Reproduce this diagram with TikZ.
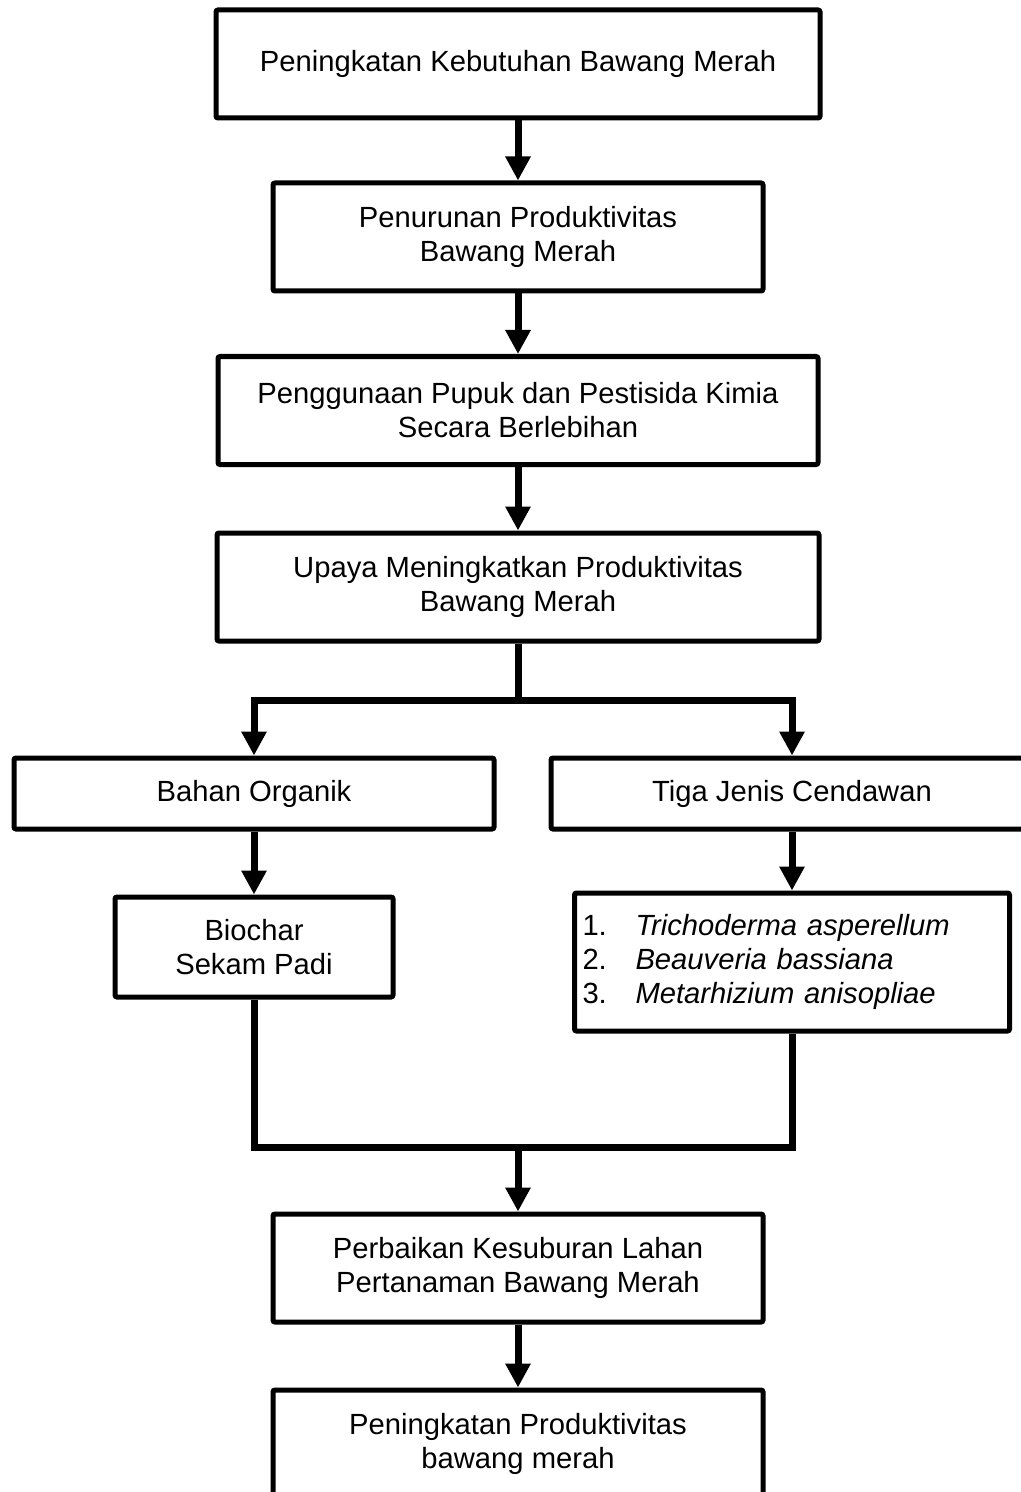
\documentclass[tikz,border=0pt]{standalone}
\usepackage{fontspec}
\setmainfont{Liberation Sans}
\usetikzlibrary{arrows.meta}

\begin{document}
\begin{tikzpicture}[x=0.5pt, y=-0.5pt,
    box/.style={draw, line width=2.5pt, rounded corners=1pt, align=center, inner sep=0pt,
      font=\fontsize{14.6}{17}\selectfont},
    link/.style={line width=3.5pt},
    arr/.style={link, -{Triangle[width=12pt, length=12pt]}}]
  \clip (0,0) rectangle (1021,1492);
  \fill[white] (0,0) rectangle (1021,1492);

  \node[box, minimum width=302pt, minimum height=54pt] (need) at (518,64) {Peningkatan Kebutuhan Bawang Merah};
  \node[box, minimum width=245pt, minimum height=54pt] (drop) at (518,237) {Penurunan Produktivitas\\Bawang Merah};
  \node[box, minimum width=300pt, minimum height=54pt] (excess) at (518,410.5) {Penggunaan Pupuk dan Pestisida Kimia\\Secara Berlebihan};
  \node[box, minimum width=301pt, minimum height=54pt] (effort) at (518,587) {Upaya Meningkatkan Produktivitas\\Bawang Merah};
  \node[box, minimum width=240pt, minimum height=35.5pt] (organic) at (254,793.5) {\raisebox{-3pt}{Bahan Organik}};
  \node[box, minimum width=241pt, minimum height=35.5pt] (fungi) at (792,793.5) {\raisebox{1pt}{Tiga Jenis Cendawan}};
  \node[box, minimum width=139pt, minimum height=50pt] (biochar) at (254,947) {Biochar\\Sekam Padi};
  \node[box, minimum width=217.5pt, minimum height=69pt, text width=209.5pt, align=left] (species) at (792,962)
    {\makebox[26.5pt][l]{1.}\textit{Trichoderma asperellum}\\
     \makebox[26.5pt][l]{2.}\textit{Beauveria bassiana}\\
     \makebox[26.5pt][l]{3.}\textit{Metarhizium anisopliae}};
  \node[box, minimum width=245pt, minimum height=54pt] (fertile) at (518,1268) {Perbaikan Kesuburan Lahan\\Pertanaman Bawang Merah};
  \node[box, minimum width=245pt, minimum height=54pt] (yield) at (518,1444) {Peningkatan Produktivitas\\bawang merah};

  \coordinate (split) at (518,700);
  \coordinate (merge) at (518,1147);

  \draw[arr] (need) -- (drop);
  \draw[arr] (drop) -- (excess);
  \draw[arr] (excess) -- (effort);
  \draw[link] (effort) -- (split);
  \draw[arr] (split) -| (organic.north);
  \draw[arr] (split) -| (fungi.north);
  \draw[arr] (organic) -- (biochar);
  \draw[arr] (fungi) -- (species);
  \draw[link] (biochar.south) |- (merge) -| (species.south);
  \draw[arr] (merge) -- (fertile.north);
  \draw[arr] (fertile) -- (yield);
\end{tikzpicture}
\end{document}
